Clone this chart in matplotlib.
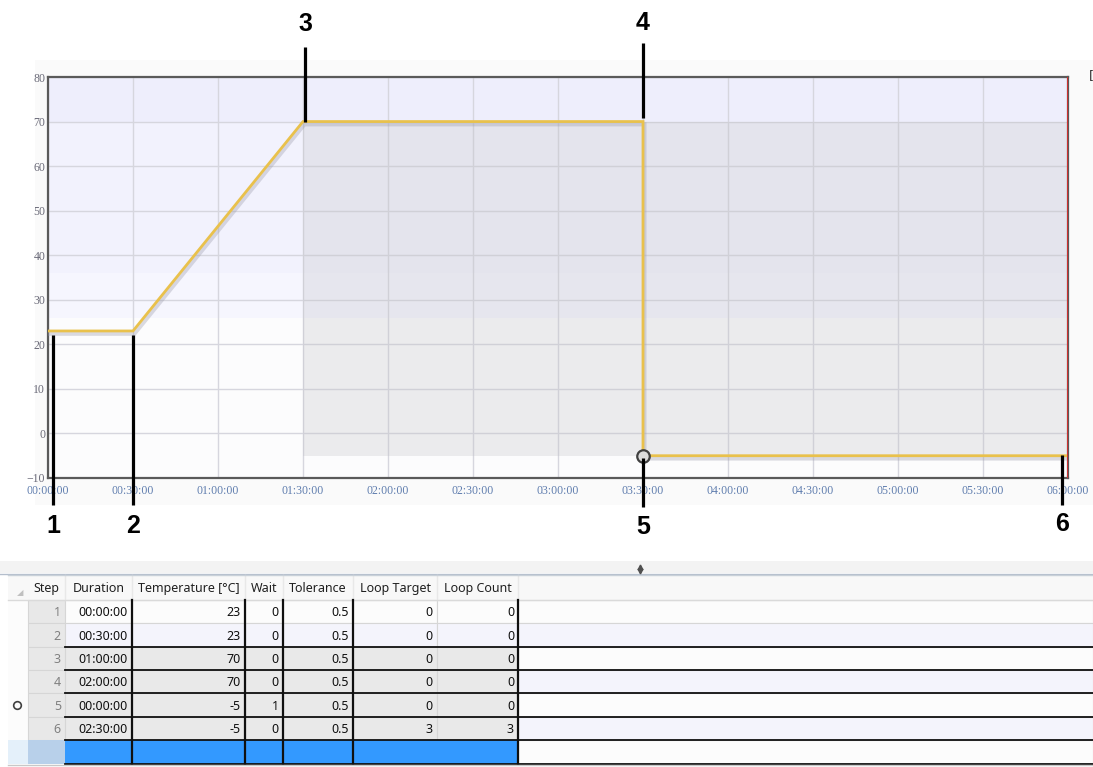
#Importing Libraries
import numpy as np
import matplotlib
matplotlib.use("Agg")
import matplotlib.pyplot as plt
import matplotlib.patheffects as pe
from matplotlib.patches import Rectangle
from matplotlib.transforms import blended_transform_factory, offset_copy

#Program table (one row per step)
steps = [1, 2, 3, 4, 5, 6]
durations = ["00:00:00", "00:30:00", "01:00:00", "02:00:00", "00:00:00", "02:30:00"]
temperatures = [23, 23, 70, 70, -5, -5]
waits = [0, 0, 0, 0, 1, 0]
tolerances = [0.5, 0.5, 0.5, 0.5, 0.5, 0.5]
loop_targets = [0, 0, 0, 0, 0, 3]
loop_counts = [0, 0, 0, 0, 0, 3]
headers = ["Step", "Duration", "Temperature [°C]", "Wait", "Tolerance", "Loop Target", "Loop Count"]
active_step = 5

#Chart axis
y_ticks = [-10, 0, 10, 20, 30, 40, 50, 60, 70, 80]
x_ticks = list(range(0, 361, 30))   # minutes

#Converting the durations to step end times (minutes)
def to_minutes(s):
    h, m, sec = [int(v) for v in s.split(":")]
    return h * 60 + m + sec / 60.0

times = np.cumsum([to_minutes(d) for d in durations])

W, H = 1093, 767
fig = plt.figure(figsize=(W / 100, H / 100), dpi=100)
fig.patch.set_facecolor("white")

#Background layer (chart container + splitter)
bg = fig.add_axes([0, 0, 1, 1], zorder=-1)
bg.set_xlim(0, W)
bg.set_ylim(H, 0)
bg.axis("off")
bg.add_patch(Rectangle((35, 60), W - 35, 445, facecolor="#FAFAFA", edgecolor="none"))
bg.add_patch(Rectangle((0, 561), W, 12, facecolor="#F3F3F3", edgecolor="none"))
bg.plot([0, W], [573.5, 573.5], color="#B4BECC", lw=1)

#Chart
ax = fig.add_axes([48 / W, 1 - 478 / H, (1068 - 48) / W, (478 - 77) / H], zorder=1)
ax.set_xlim(x_ticks[0], x_ticks[-1])
ax.set_ylim(y_ticks[0], y_ticks[-1])

#Lavender band background
for y0, y1, c in [(70, 80, "#EEEEFC"), (36, 70, "#F2F2FD"), (26, 36, "#F6F6FE"), (-10, 26, "#FCFCFD")]:
    ax.axhspan(y0, y1, color=c, lw=0, zorder=0)

#Gray area after the ramp
ax.add_patch(Rectangle((times[2], temperatures[4]), times[-1] - times[2],
                       temperatures[2] - temperatures[4],
                       facecolor="#C4C4CA", alpha=0.30, edgecolor="none", zorder=1))

ax.set_xticks(x_ticks)
ax.set_yticks(y_ticks)
ax.set_xticklabels(["%02d:%02d:00" % (t // 60, t % 60) for t in x_ticks])
ax.grid(True, color="#D6D6DE", lw=1, zorder=2)
ax.set_axisbelow(True)
ax.tick_params(axis="y", length=0, pad=2)
ax.tick_params(axis="x", length=0, pad=5)
for lab in ax.get_yticklabels():
    lab.set_fontfamily("Liberation Serif")
    lab.set_fontsize(8.5)
    lab.set_color("#6A6A78")
for lab in ax.get_xticklabels():
    lab.set_fontfamily("Liberation Serif")
    lab.set_fontsize(8.5)
    lab.set_color("#5F7DAE")
for sp in ax.spines.values():
    sp.set_color("#5A5A5A")
    sp.set_linewidth(1.6)

#Temperature profile with shadow
ax.plot(times, temperatures, color="#E9C14C", lw=2.0, zorder=5, solid_joinstyle="miter",
        path_effects=[pe.SimpleLineShadow(offset=(1, -2), shadow_color="#9A9AAA", alpha=0.35, linewidth=3),
                      pe.Normal()])
ax.plot(times[active_step - 1], temperatures[active_step - 1], "o", ms=9, mfc="#DCDCDC",
        mec="#404040", mew=1.6, zorder=6, clip_on=False)
ax.axvline(times[-1], color="#D03030", lw=1.4, zorder=6)

#Overlay for callouts and table (pixel coordinates)
ov = fig.add_axes([0, 0, 1, 1], zorder=5)
ov.set_xlim(0, W)
ov.set_ylim(H, 0)
ov.axis("off")
ov.patch.set_alpha(0)
ov.text(1089, 76, "[", fontsize=9, color="#303030", va="center")

#Callouts: x from the step times, y in pixels
blend = blended_transform_factory(ax.transData, ov.transData)
callouts = [(5, 335, 505, 526), (0, 335, 505, 526), (2, 47, 122, 24),
            (0, 43, 118, 23), (0, 458, 507, 527), (-6, 455, 505, 524)]
for i, (dx, y0, y1, ly) in enumerate(callouts):
    tr = offset_copy(blend, fig=fig, x=dx, y=0, units="dots")
    ov.plot([times[i], times[i]], [y0, y1], color="black", lw=2.3, transform=tr, solid_capstyle="butt")
    ov.text(times[i], ly, str(steps[i]), transform=tr, ha="center", va="center",
            fontsize=18, fontweight="bold", family="Liberation Sans")

#Splitter icon
ov.plot([640], [566.5], marker="^", ms=3.5, color="#505050", lw=0)
ov.plot([640], [571], marker="v", ms=3.5, color="#505050", lw=0)

#Table
col_edges = [8, 28, 65, 132, 245, 283, 353, 437, 518, W]
row_edges = [600, 623, 647, 670, 693, 717, 740, 764]
head_top = 575
tf = "Noto Sans"
fs = 9

ov.add_patch(Rectangle((col_edges[0], head_top), W, row_edges[0] - head_top,
                       facecolor="#F8F8F8", edgecolor="none"))
for j, h in enumerate(headers):
    cx = (col_edges[j + 1] + col_edges[j + 2]) / 2
    ov.text(cx, (head_top + row_edges[0]) / 2 + 1, h, ha="center", va="center",
            fontsize=fs, family=tf, color="#202020")
    ov.plot([col_edges[j + 2], col_edges[j + 2]], [head_top, row_edges[0]], color="#E8E8E8", lw=1)
ov.plot([col_edges[0], W], [row_edges[0], row_edges[0]], color="#DADADA", lw=1)
ov.plot([col_edges[0], W], [head_top, head_top], color="#C8D0D8", lw=1)
ov.text(20, 593, "◢", fontsize=6, color="#C0C0C0", ha="center", va="center", family="DejaVu Sans")

columns = [steps, durations, temperatures, waits, tolerances, loop_targets, loop_counts]
for r in range(len(steps)):
    y0, y1 = row_edges[r], row_edges[r + 1]
    light = "#F4F4FC" if r % 2 == 1 else "#FCFCFC"
    for c in range(len(col_edges) - 1):
        if c == 0:
            fc, ec = "#FCFCFC", "none"
        elif c == 1:
            fc, ec = "#E8E8E8", "#D6D6D6"
        elif c == len(col_edges) - 2:
            fc, ec = light, "#D6D6D6"
        else:
            fc, ec = (light if r < 2 else "#E9E9E9"), "#D6D6D6"
        ov.add_patch(Rectangle((col_edges[c], y0), col_edges[c + 1] - col_edges[c], y1 - y0,
                               facecolor=fc, edgecolor=ec, lw=0.8))
    for j, col in enumerate(columns):
        ov.text(col_edges[j + 2] - 4, (y0 + y1) / 2 + 1, str(col[r]), ha="right", va="center",
                fontsize=fs, family=tf, color="#808080" if j == 0 else "#101010")
    if steps[r] == active_step:
        ov.plot([17], [(y0 + y1) / 2], "o", ms=5.5, mfc="none", mec="#404040", mew=1.2)

#New (selected) row
y0, y1 = row_edges[-2], row_edges[-1]
for c, fc in enumerate(["#E4F0FA", "#B8D0EA"] + ["#3399FF"] * 6 + ["#FCFCFC"]):
    ov.add_patch(Rectangle((col_edges[c], y0), col_edges[c + 1] - col_edges[c], y1 - y0,
                           facecolor=fc, edgecolor="#D6D6D6" if fc == "#FCFCFC" else "none", lw=0.8))

#Dark separators
for y in row_edges[2:]:
    ov.plot([col_edges[2], W], [y, y], color="#101010", lw=1.3)
for x in [132, 245, 283, 353, 518]:
    ov.plot([x, x], [row_edges[0], row_edges[-1]], color="#101010", lw=1.6)
ov.plot([col_edges[0], W], [row_edges[-1] + 1, row_edges[-1] + 1], color="#C8C8C8", lw=1)

fig.savefig("out.png", dpi=100)
